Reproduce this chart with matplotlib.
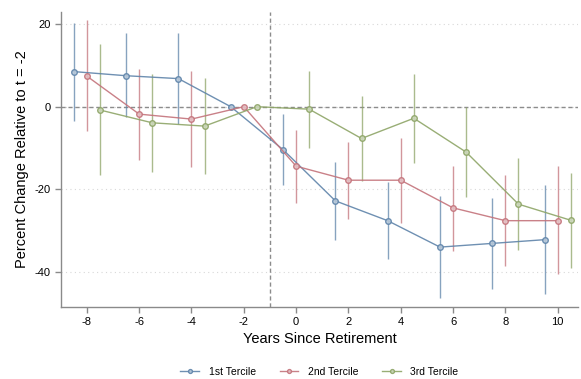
import matplotlib
matplotlib.use('Agg')
import matplotlib.pyplot as plt
import matplotlib.colors as mcolors
import numpy as np
from matplotlib import rcParams

rcParams['font.family'] = 'sans-serif'
rcParams['font.sans-serif'] = ['Liberation Sans']
rcParams['font.size'] = 7.5

# years since retirement (each tercile is offset a bit on the x axis)
years = np.arange(-8, 11, 2)

t1_est = [8.5, 7.5, 6.8, 0.0, -10.4, -22.8, -27.6, -34.0, -33.1, -32.2]
t1_hi = [20.3, 17.8, 17.8, np.nan, -1.8, -13.3, -18.2, -21.6, -22.2, -19.0]
t1_lo = [-3.5, -2.4, -4.2, np.nan, -19.0, -32.3, -37.0, -46.4, -44.1, -45.3]

t2_est = [7.4, -1.8, -3.0, 0.0, -14.4, -17.8, -17.8, -24.5, -27.6, -27.6]
t2_hi = [21.0, 9.1, 8.6, np.nan, -5.6, -8.6, -7.6, -14.3, -16.5, -14.4]
t2_lo = [-6.0, -12.9, -14.7, np.nan, -23.2, -27.1, -28.1, -34.9, -38.6, -40.6]

t3_est = [-0.8, -3.9, -4.7, 0.0, -0.6, -7.7, -2.8, -11.0, -23.6, -27.5]
t3_hi = [15.1, 7.9, 7.0, np.nan, 8.7, 2.6, 7.9, 0.0, -12.5, -16.1]
t3_lo = [-16.5, -15.8, -16.4, np.nan, -9.9, -18.0, -13.6, -21.9, -34.7, -39.0]

series = [
	('1st Tercile', -0.5, t1_est, t1_lo, t1_hi, '#5f84aa'),
	('2nd Tercile', 0.0, t2_est, t2_lo, t2_hi, '#c4737b'),
	('3rd Tercile', 0.5, t3_est, t3_lo, t3_hi, '#8ea567'),
]

def lighten(color, amount=0.55):
	r, g, b = mcolors.to_rgb(color)
	return (r + (1 - r) * amount, g + (1 - g) * amount, b + (1 - b) * amount)

fig = plt.figure(figsize=(5.81, 3.79), dpi=100)
ax = fig.add_axes([0.1045, 0.19, 0.8905, 0.778])

for label, shift, est, lo, hi, color in series:
	x = years + shift
	ax.vlines(x, lo, hi, color=color, alpha=0.75, lw=1.0, zorder=2)
	ax.plot(x, est, color=color, lw=1.0, alpha=0.9, marker='o', ms=4.0,
		mfc=lighten(color), mec=color, mew=1.0, label=label, zorder=3)

ax.axhline(0, color='#8c8c8c', lw=1.0, ls=(0, (3, 2)), zorder=1)
ax.axvline(-1, color='#8c8c8c', lw=1.0, ls=(0, (3, 2)), zorder=1)

ax.set_xlim(-9.0, 10.78)
ax.set_ylim(-48.5, 22.9)
ax.set_xticks(years)
ax.set_yticks([-40, -20, 0, 20])
ax.set_xticklabels([str(v) for v in years])
ax.set_yticklabels(['-40', '-20', '0', '20'])
ax.yaxis.grid(True, color='#d8d8d8', ls=(0, (1, 3)), lw=0.8)
ax.set_axisbelow(True)

for side in ['top', 'right']:
	ax.spines[side].set_visible(False)
for side in ['left', 'bottom']:
	ax.spines[side].set_color('#8a8a8a')
	ax.spines[side].set_linewidth(1.0)
ax.tick_params(color='#8a8a8a', length=4, width=1.0, labelsize=8, pad=3)

ax.set_xlabel('Years Since Retirement', fontsize=10.5, labelpad=4)
ax.set_ylabel('Percent Change Relative to t = -2', fontsize=10.5, labelpad=4)

ax.legend(loc='center', bbox_to_anchor=(0.5, -0.22), ncol=3, frameon=False,
	fontsize=7.5, handlelength=1.8, columnspacing=2.3, handletextpad=0.9,
	markerscale=0.7, borderpad=0.2)

fig.savefig('out.png', dpi=100)
